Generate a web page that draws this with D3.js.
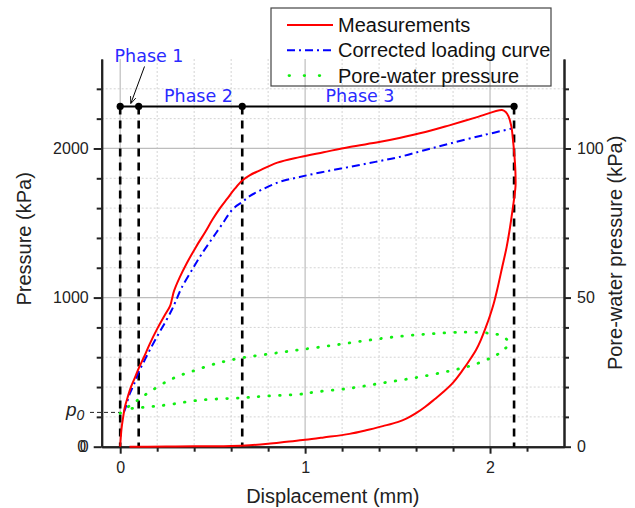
<!DOCTYPE html>
<html><head><meta charset="utf-8">
<script src="https://cdn.jsdelivr.net/npm/d3@7"></script>
<style>body{margin:0;background:#fff}svg{display:block}</style>
</head><body>
<svg id="c" width="635" height="508"></svg>
<script>
// ---------- data ----------
const measX = [0,0.003,0.008,0.015,0.025,0.04,0.055,0.075,0.10,0.13,0.16,0.20,0.24,0.27,0.28,0.29,0.32,0.36,0.41,0.46,0.50,0.54,0.58,0.62,0.66,0.70,0.75,0.85,0.97,1.10,1.24,1.40,1.51,1.65,1.78,1.93,2.065,
  2.085,2.10,2.115,2.124,2.132,2.137,2.138,2.132,2.124,2.108,2.09,2.065,2.04,2.02,2.00,1.977,1.95,1.925,1.90,1.85,1.80,1.75,1.70,1.65,1.60,1.55,1.50,1.42,1.33,1.24,1.10,1.00,0.90,0.80,0.70,0.60,0.45,0.30,0.15,0.05];
const measP = [0,60,130,190,265,330,390,450,525,605,690,790,880,945,990,1040,1130,1230,1340,1440,1525,1600,1665,1730,1785,1820,1850,1905,1942,1975,2010,2043,2070,2110,2155,2210,2258,
  2245,2215,2150,2060,1950,1850,1750,1680,1607,1470,1340,1200,1060,960,880,800,715,650,600,510,430,370,318,268,225,190,165,138,110,86,62,46,33,20,10,5,3,1,0,0];
const corrX = [0.02,0.03,0.05,0.075,0.10,0.13,0.16,0.20,0.25,0.28,0.30,0.33,0.40,0.45,0.50,0.55,0.61,0.66,0.70,0.76,0.86,0.97,1.10,1.24,1.38,1.51,1.65,1.78,1.96,2.116];
const corrP = [230,265,350,420,500,575,648,740,849,920,975,1060,1210,1310,1400,1490,1595,1641,1680,1720,1775,1809,1843,1876,1910,1943,1990,2032,2088,2133];
const poreX = [0.0,0.03,0.07,0.11,0.16,0.25,0.32,0.395,0.52,0.66,0.83,0.97,1.15,1.33,1.51,1.69,1.87,2.0,2.07,2.103,
  2.08,2.062,2.008,1.908,1.782,1.602,1.422,1.242,1.062,0.971,0.79,0.66,0.43,0.25,0.16,0.07,0.016];
const poreU = [11.2,12.8,14.5,16.3,18.4,21.8,23.8,25.4,27.9,29.8,31.3,32.5,34.0,35.6,37.0,37.9,38.4,38.0,37.0,34.6,
  32.8,31.8,29.9,27.4,25.4,23.2,21.4,19.6,18.4,17.6,17.0,16.4,15.6,14.0,13.4,12.9,12.3];
const phaseX = [0, 0.1, 0.66, 2.13];
const phaseP = 2282;
const phaseLabels = ["Phase 1", "Phase 2", "Phase 3"];
const p0 = 230;
const xTicks = [0, 1, 2];
const yTicks = [0, 1000, 2000];
const y2Ticks = [0, 50, 100];
const seriesNames = ["Measurements", "Corrected loading curve", "Pore-water pressure"];

// ---------- layout ----------
const svg = d3.select("#c");
const L = 101.7, R = 564, T = 59, B = 446.7;
const x = d3.scaleLinear().domain([-0.1, 2.4]).range([L, R]);
const y = d3.scaleLinear().domain([0, 2600]).range([B, T]);
const y2 = d3.scaleLinear().domain([0, 130]).range([B, T]);
const FONT = "'Liberation Sans', Arial, sans-serif";
const RED = "#ff0000", BLUE = "#0000ff", GREEN = "#11ee11";

// grid
const g = svg.append("g");
const minorXt = d3.range(0.2, 2.4, 0.2).map(v => +v.toFixed(2)).filter(v => Math.abs(v - Math.round(v)) > 1e-6);
const minorY = d3.range(200, 2600, 200).filter(v => v % 1000 !== 0);
g.selectAll(".mx").data(minorXt).join("line")
  .attr("x1", d => x(d)).attr("x2", d => x(d)).attr("y1", T).attr("y2", B)
  .attr("stroke", "#d4d4d4").attr("stroke-width", 1).attr("stroke-dasharray", "2,2");
g.selectAll(".my").data(minorY).join("line")
  .attr("x1", L).attr("x2", R).attr("y1", d => y(d)).attr("y2", d => y(d))
  .attr("stroke", "#d4d4d4").attr("stroke-width", 1).attr("stroke-dasharray", "2,2");
g.selectAll(".Mx").data(xTicks).join("line")
  .attr("x1", d => x(d)).attr("x2", d => x(d)).attr("y1", T).attr("y2", B)
  .attr("stroke", "#bdbdbd").attr("stroke-width", 1.2);
g.selectAll(".My").data([1000, 2000]).join("line")
  .attr("x1", L).attr("x2", R).attr("y1", d => y(d)).attr("y2", d => y(d))
  .attr("stroke", "#bdbdbd").attr("stroke-width", 1.2);

// axes
function styleAxis(sel) {
  sel.select(".domain").attr("stroke", "#222").attr("stroke-width", 2);
  sel.selectAll(".tick line").attr("stroke", "#222").attr("stroke-width", 2);
  sel.selectAll("text").attr("font-family", FONT).attr("font-size", 16).attr("fill", "#222");
}
svg.append("g").attr("transform", `translate(0,${B})`)
  .call(d3.axisBottom(x).tickValues(minorXt).tickSize(5).tickFormat("").tickSizeOuter(0)).call(styleAxis);
svg.append("g").attr("transform", `translate(0,${B})`)
  .call(d3.axisBottom(x).tickValues(xTicks).tickSize(7).tickPadding(8).tickFormat(d3.format("d")).tickSizeOuter(0)).call(styleAxis);
svg.append("g").attr("transform", `translate(${L},0)`)
  .call(d3.axisLeft(y).tickValues(minorY).tickSize(5).tickFormat("").tickSizeOuter(0)).call(styleAxis);
svg.append("g").attr("transform", `translate(${L},0)`)
  .call(d3.axisLeft(y).tickValues(yTicks).tickSize(8).tickPadding(5).tickFormat(d3.format("d")).tickSizeOuter(0)).call(styleAxis);
svg.append("g").attr("transform", `translate(${R},0)`)
  .call(d3.axisRight(y2).tickValues(d3.range(10, 130, 10).filter(v => v % 50 !== 0)).tickSize(5).tickFormat("").tickSizeOuter(0)).call(styleAxis);
svg.append("g").attr("transform", `translate(${R},0)`)
  .call(d3.axisRight(y2).tickValues(y2Ticks).tickSize(7).tickPadding(6).tickFormat(d3.format("d")).tickSizeOuter(0)).call(styleAxis);
// doubled zero label on left axis (as in the reference)
svg.append("text").attr("x", L - 15.5).attr("y", y(0)).attr("dy", "0.32em").attr("text-anchor", "end")
  .attr("font-family", FONT).attr("font-size", 16).attr("fill", "#222").text("0");

// axis titles
svg.append("text").attr("x", (L + R) / 2).attr("y", 503).attr("text-anchor", "middle")
  .attr("font-family", FONT).attr("font-size", 20).attr("fill", "#222").text("Displacement (mm)");
svg.append("text").attr("transform", `translate(31,${(T + B) / 2 - 14}) rotate(-90)`).attr("text-anchor", "middle")
  .attr("font-family", FONT).attr("font-size", 20).attr("fill", "#222").text("Pressure (kPa)");
svg.append("text").attr("transform", `translate(622,${(T + B) / 2}) rotate(-90)`).attr("text-anchor", "middle")
  .attr("font-family", FONT).attr("font-size", 20).attr("fill", "#222").text("Pore-water pressure (kPa)");

// p0 marker
svg.append("line").attr("x1", 90).attr("x2", x(0)).attr("y1", y(p0)).attr("y2", y(p0))
  .attr("stroke", "#222").attr("stroke-width", 1).attr("stroke-dasharray", "4,3");
const p0t = svg.append("text").attr("x", 66).attr("y", y(p0) + 4).attr("font-family", FONT)
  .attr("font-size", 19).attr("font-style", "italic").attr("fill", "#222");
p0t.append("tspan").text("p");
p0t.append("tspan").attr("font-size", 14).attr("dy", 4).text("0");

// phase lines
svg.selectAll(".pv").data(phaseX).join("line")
  .attr("x1", d => x(d)).attr("x2", d => x(d)).attr("y1", y(phaseP)).attr("y2", B)
  .attr("stroke", "#000").attr("stroke-width", 2.6).attr("stroke-dasharray", "8,6");

// curves
const curve = d3.curveCatmullRom.alpha(0.5);
const lineM = d3.line().x(i => x(measX[i])).y(i => y(measP[i])).curve(curve);
const lineC = d3.line().x(i => x(corrX[i])).y(i => y(corrP[i])).curve(curve);
const lineU = d3.line().x(i => x(poreX[i])).y(i => y2(poreU[i])).curve(curve);
svg.append("path").attr("d", lineU(d3.range(poreX.length))).attr("fill", "none")
  .attr("stroke", GREEN).attr("stroke-width", 2.8).attr("stroke-dasharray", "0.6,10").attr("stroke-linecap", "round");
svg.append("path").attr("d", lineC(d3.range(corrX.length))).attr("fill", "none")
  .attr("stroke", BLUE).attr("stroke-width", 2).attr("stroke-dasharray", "8,4,2,4");
svg.append("path").attr("d", lineM(d3.range(measX.length))).attr("fill", "none")
  .attr("stroke", RED).attr("stroke-width", 2);

// phase top line and dots
svg.append("line").attr("x1", x(phaseX[0])).attr("x2", x(phaseX[3])).attr("y1", y(phaseP)).attr("y2", y(phaseP))
  .attr("stroke", "#000").attr("stroke-width", 2);
svg.selectAll(".pd").data(phaseX).join("circle")
  .attr("cx", d => x(d)).attr("cy", y(phaseP)).attr("r", 3.6).attr("fill", "#000");

// phase labels
const PF = "'DejaVu Sans', Verdana, sans-serif", PC = "#2a2aff";
svg.append("text").attr("x", 149).attr("y", 61.5).attr("text-anchor", "middle")
  .attr("font-family", PF).attr("font-size", 17.5).attr("fill", PC).text(phaseLabels[0]);
svg.append("text").attr("x", (x(phaseX[1]) + x(phaseX[2])) / 2 + 8).attr("y", 101.5).attr("text-anchor", "middle")
  .attr("font-family", PF).attr("font-size", 17.5).attr("fill", PC).text(phaseLabels[1]);
svg.append("text").attr("x", 360).attr("y", 101.5).attr("text-anchor", "middle")
  .attr("font-family", PF).attr("font-size", 17.5).attr("fill", PC).text(phaseLabels[2]);
// arrow
svg.append("defs").append("marker").attr("id", "ah").attr("viewBox", "0 0 10 10").attr("refX", 9).attr("refY", 5)
  .attr("markerWidth", 7).attr("markerHeight", 7).attr("orient", "auto")
  .append("path").attr("d", "M0,1 L10,5 L0,9").attr("fill", "none").attr("stroke", "#000").attr("stroke-width", 1.2);
svg.append("line").attr("x1", 144.5).attr("y1", 66.5).attr("x2", 131).attr("y2", 103)
  .attr("stroke", "#000").attr("stroke-width", 1).attr("marker-end", "url(#ah)");

// legend
const lg = svg.append("g");
lg.append("rect").attr("x", 271).attr("y", 8).attr("width", 280).attr("height", 78)
  .attr("fill", "none").attr("stroke", "#444").attr("stroke-width", 1.2);
const lgStyles = [
  {c: RED, w: 2, d: null},
  {c: BLUE, w: 2, d: "8,4,2,4"},
  {c: GREEN, w: 2.8, d: "0.6,14.5"}
];
seriesNames.forEach((n, i) => {
  const yy = 25 + i * 25.3;
  lg.append("line").attr("x1", i === 2 ? 289 : 287).attr("x2", 333).attr("y1", yy).attr("y2", yy)
    .attr("stroke", lgStyles[i].c).attr("stroke-width", lgStyles[i].w)
    .attr("stroke-dasharray", lgStyles[i].d).attr("stroke-linecap", i === 2 ? "round" : "butt");
  lg.append("text").attr("x", 338).attr("y", yy + 7).attr("font-family", FONT).attr("font-size", 20)
    .attr("fill", "#111").text(n);
});
</script>
</body></html>
